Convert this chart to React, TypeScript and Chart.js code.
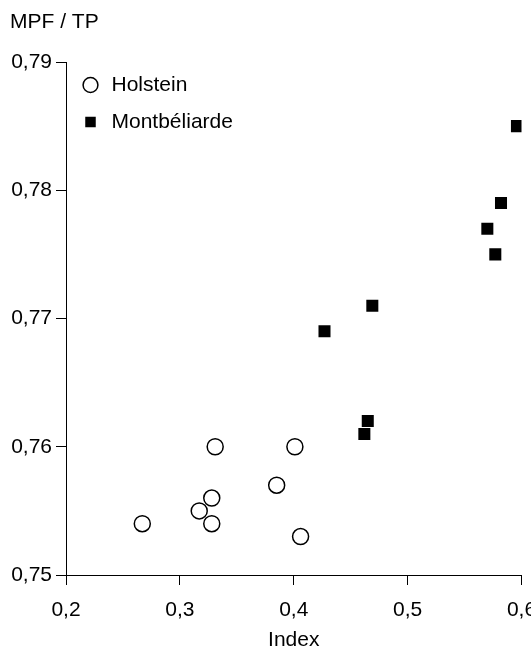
import React, { useEffect, useRef } from "react";
import { Chart, registerables } from "chart.js";

Chart.register(...registerables);

const holsteinX = [0.267, 0.331, 0.328, 0.317, 0.328, 0.385, 0.401, 0.406];
const holsteinY = [0.754, 0.76, 0.756, 0.755, 0.754, 0.757, 0.76, 0.753];
const montX = [0.596, 0.582, 0.57, 0.577, 0.469, 0.427, 0.465, 0.462];
const montY = [0.785, 0.779, 0.777, 0.775, 0.771, 0.769, 0.762, 0.761];
const seriesNames = ["Holstein", "Montbéliarde"];
const yTitle = "MPF / TP";
const xTitle = "Index";

const FONT = "'Liberation Sans', Arial, Helvetica, sans-serif";
const FS = 21;

const legendInArea = {
  id: "legendInArea",
  afterLayout(chart: any) {
    const lg = chart.legend;
    if (!lg) return;
    const h = lg.height;
    lg.top = chart.chartArea.top - 3.5;
    lg.bottom = lg.top + h;
    lg.left = chart.chartArea.left - 2;
    lg.right = lg.left + lg.width;
  },
};

export default function App() {
  const ref = useRef<HTMLCanvasElement | null>(null);

  useEffect(() => {
    if (!ref.current) return;
    Chart.defaults.font.family = FONT;
    const zeroPad = (s: any) => {
      s.paddingLeft = 0;
      s.paddingRight = 0;
      s.paddingTop = 0;
      s.paddingBottom = 0;
    };
    const chart = new Chart(ref.current, {
      type: "scatter",
      data: {
        datasets: [
          {
            label: seriesNames[0],
            data: holsteinX.map((x, i) => ({ x, y: holsteinY[i] })),
            pointStyle: "circle",
            pointRadius: 8,
            backgroundColor: "#ffffff",
            borderColor: "#000000",
            borderWidth: 1.5,
          },
          {
            label: seriesNames[1],
            data: montX.map((x, i) => ({ x, y: montY[i] })),
            pointStyle: "rect",
            pointRadius: 8.5,
            backgroundColor: "#000000",
            borderColor: "#000000",
            borderWidth: 0,
          },
        ],
      },
      plugins: [legendInArea],
      options: {
        responsive: false,
        animation: false,
        events: [],
        layout: { padding: { left: 10, right: 9, top: 0, bottom: 0 } },
        plugins: {
          tooltip: { enabled: false },
          title: {
            display: true,
            text: yTitle,
            align: "start",
            color: "#000",
            font: { size: FS, weight: "normal", lineHeight: 1.2 },
            padding: { top: 10, bottom: 26.8 },
          },
          legend: {
            position: "chartArea" as any,
            align: "start",
            labels: {
              usePointStyle: true,
              boxHeight: 10.5,
              padding: 16,
              color: "#000",
              font: { size: FS },
            },
          },
        },
        scales: {
          x: {
            type: "linear",
            min: 0.2,
            max: 0.6,
            afterFit: (s: any) => {
              s.height = 76;
              zeroPad(s);
            },
            ticks: {
              stepSize: 0.1,
              color: "#000",
              padding: 12.5,
              font: { size: FS },
              callback: (v: any) => Number(v).toFixed(1).replace(".", ","),
            },
            grid: {
              display: true,
              drawOnChartArea: false,
              drawTicks: true,
              tickLength: 10,
              color: "#000",
              lineWidth: 1,
            },
            border: { display: true, color: "#000", width: 1 },
            title: {
              display: true,
              text: xTitle,
              color: "#000",
              font: { size: FS, lineHeight: 1 },
              padding: 0,
            },
          },
          y: {
            type: "linear",
            min: 0.75,
            max: 0.79,
            afterFit: (s: any) => {
              s.width = 56;
              zeroPad(s);
            },
            ticks: {
              stepSize: 0.01,
              color: "#000",
              padding: 4,
              font: { size: FS },
              callback: (v: any) => Number(v).toFixed(2).replace(".", ","),
            },
            grid: {
              display: true,
              drawOnChartArea: false,
              drawTicks: true,
              tickLength: 10,
              color: "#000",
              lineWidth: 1,
            },
            border: { display: true, color: "#000", width: 1 },
          },
        },
      },
    });
    return () => chart.destroy();
  }, []);

  return (
    <div style={{ position: "absolute", left: 0, top: 0, width: 531, height: 651, background: "#fff" }}>
      <canvas ref={ref} width={531} height={651} style={{ display: "block" }} />
    </div>
  );
}
